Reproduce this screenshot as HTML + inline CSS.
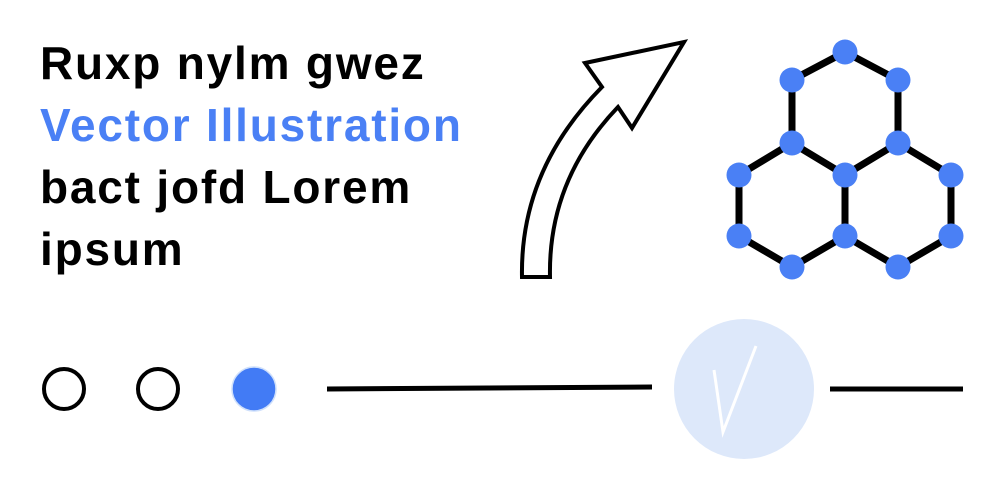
<!DOCTYPE html>
<html><head><style>
body{margin:0;width:1004px;height:500px;background:#fff;overflow:hidden;position:relative;font-family:"Liberation Sans",sans-serif}
.t{position:absolute;left:40px;font-weight:bold;font-size:46px;line-height:62px;top:32px;color:#000;letter-spacing:1.8px}
</style></head><body>
<div class="t">Ruxp nylm gwez<br><span style="color:#4a80f5">Vector Illustration</span><br>bact jofd Lorem<br>ipsum</div>
<svg width="1004" height="500" style="position:absolute;left:0;top:0">
<path d="M522,277 L550,277 Q548,180 618,107 L632,128 L684,42 L585,63 L602,87 Q520,170 522,277 Z" fill="#fff" stroke="#000" stroke-width="4" stroke-linejoin="miter"/>
<g stroke="#000" stroke-width="7" fill="none">
<path d="M845,52 L792,80 L792,143 L845,175 L898,143 L898,80 Z"/>
<path d="M792,143 L739,175 L739,236 L792,267 L845,236 L845,175"/>
<path d="M898,143 L951,175 L951,236 L898,267 L845,236"/>
</g>
<g fill="#4a80f5">
<circle cx="845" cy="52" r="12.5"/><circle cx="792" cy="80" r="12.5"/><circle cx="898" cy="80" r="12.5"/>
<circle cx="792" cy="143" r="12.5"/><circle cx="898" cy="143" r="12.5"/>
<circle cx="739" cy="175" r="12.5"/><circle cx="845" cy="175" r="12.5"/><circle cx="951" cy="175" r="12.5"/>
<circle cx="739" cy="236" r="12.5"/><circle cx="845" cy="236" r="12.5"/><circle cx="951" cy="236" r="12.5"/>
<circle cx="792" cy="267" r="12.5"/><circle cx="898" cy="267" r="12.5"/>
</g>
<circle cx="64" cy="389" r="20" fill="none" stroke="#000" stroke-width="4"/>
<circle cx="158" cy="389" r="20" fill="none" stroke="#000" stroke-width="4"/>
<circle cx="254" cy="389" r="22" fill="#427bf5" stroke="#cfe0fb" stroke-width="1.5"/>
<path d="M327,389 L652,387" stroke="#000" stroke-width="5"/>
<circle cx="744" cy="389" r="70" fill="#dde8fa"/>
<path d="M714,370 L723,432 L756,346" stroke="#fff" stroke-width="3" fill="none"/>
<path d="M830,389 L963,389" stroke="#000" stroke-width="5"/>
</svg>
</body></html>
